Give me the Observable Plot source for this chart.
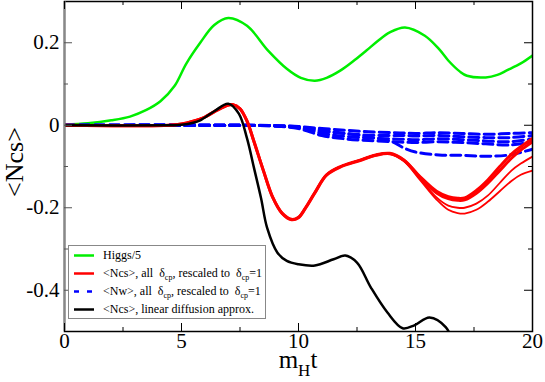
<!DOCTYPE html>
<html>
<head>
<meta charset="utf-8">
<script src="https://cdn.jsdelivr.net/npm/d3@7"></script>
<script src="https://cdn.jsdelivr.net/npm/@observablehq/plot@0.6"></script>
<style>
  * { font-family: "Liberation Serif", serif !important; }
  svg text { font-family: "Liberation Serif", serif !important; }
</style>
</head>
<body style="margin:0;padding:0;background:white">
<div id="wrap" style="position:relative;width:545px;height:382px;font-family:'Liberation Serif', serif">
  <div id="chart"></div>
  <div id="ylab" style="position:absolute;left:15px;top:162px;transform:translate(-50%,-50%) rotate(-90deg);font-size:26px;white-space:nowrap;line-height:26px">&lt;Ncs&gt;</div>
  <div id="xlab" style="position:absolute;left:298px;top:361px;transform:translate(-50%,-50%);font-size:25px;white-space:nowrap;line-height:25px">m<span style="font-size:17px;position:relative;top:8px">H</span>t</div>
  <div id="legend" style="position:absolute;left:68px;top:245px;width:198px;height:74px;border:1px solid #888;background:white;box-sizing:border-box;font-size:12px"></div>
</div>
<script>
// ---- data ----
const tGreen = [0,1,2,2.8,3.5,4.1,4.7,5.2,5.8,6.4,7.0,7.8,8.7,9.5,10.1,10.7,11.2,11.8,12.4,12.9,13.4,13.9,14.55,15.4,16.0,16.4,16.9,17.2,18.0,18.5,18.9,19.5,20];
const vGreen = [0.002,0.005,0.012,0.021,0.037,0.058,0.095,0.149,0.2,0.243,0.26,0.241,0.181,0.137,0.115,0.108,0.115,0.133,0.158,0.181,0.205,0.225,0.237,0.217,0.185,0.157,0.13,0.12,0.116,0.122,0.133,0.15,0.169];

const tRed = [0,4.5,5,5.5,6,6.5,7,7.2,7.5,7.8,8.1,8.5,8.9,9.3,9.7,10.0,10.3,10.7,11.2,11.8,12.6,13.3,13.9,14.5,15.2,15.9,16.4,16.8,17.1,17.6,18.1,18.6,19.1,19.5,20];
const vRed1 = [0,0,0.003,0.01,0.02,0.036,0.049,0.05,0.04,0.01,-0.04,-0.11,-0.175,-0.213,-0.228,-0.223,-0.2,-0.163,-0.12,-0.1,-0.085,-0.072,-0.068,-0.084,-0.125,-0.16,-0.173,-0.177,-0.176,-0.158,-0.132,-0.1,-0.07,-0.052,-0.032];
const vRed2 = [0,0,0.003,0.01,0.02,0.036,0.049,0.05,0.04,0.01,-0.04,-0.11,-0.175,-0.214,-0.229,-0.224,-0.201,-0.164,-0.121,-0.101,-0.086,-0.073,-0.069,-0.085,-0.127,-0.164,-0.178,-0.182,-0.181,-0.165,-0.14,-0.11,-0.08,-0.06,-0.04];
const vRed3 = [0,0,0.003,0.01,0.02,0.036,0.049,0.05,0.04,0.01,-0.04,-0.11,-0.175,-0.213,-0.228,-0.223,-0.2,-0.163,-0.12,-0.1,-0.085,-0.072,-0.069,-0.086,-0.13,-0.175,-0.195,-0.2,-0.2,-0.19,-0.17,-0.14,-0.11,-0.093,-0.076];
const vRed4 = [0,0,0.003,0.01,0.02,0.036,0.049,0.05,0.04,0.01,-0.04,-0.11,-0.175,-0.213,-0.228,-0.223,-0.2,-0.163,-0.12,-0.1,-0.085,-0.072,-0.069,-0.087,-0.133,-0.18,-0.205,-0.213,-0.214,-0.205,-0.185,-0.16,-0.135,-0.12,-0.11];

const tBlue = [0,7,9,10,11,12,13,14,14.5,15,16,17,18,19,20];
const vBlue1 = [0,0,-0.001,-0.003,-0.008,-0.012,-0.016,-0.018,-0.019,-0.02,-0.018,-0.02,-0.022,-0.02,-0.018];
const vBlue2 = [0,0,-0.001,-0.005,-0.015,-0.02,-0.024,-0.025,-0.025,-0.026,-0.025,-0.028,-0.03,-0.03,-0.025];
const vBlue3 = [0,0,-0.002,-0.006,-0.02,-0.027,-0.031,-0.033,-0.034,-0.035,-0.033,-0.035,-0.038,-0.04,-0.033];
const vBlue4 = [0,0,-0.002,-0.008,-0.025,-0.033,-0.037,-0.04,-0.041,-0.042,-0.04,-0.042,-0.045,-0.048,-0.04];
const vBlue5 = [0,0,-0.001,-0.004,-0.012,-0.02,-0.028,-0.04,-0.055,-0.065,-0.072,-0.073,-0.075,-0.072,-0.058];

const tBlack = [0,4.5,5,5.5,5.8,6.4,7.0,7.45,7.8,8.1,8.4,8.66,9.1,9.5,10.0,10.7,11.5,12.0,12.5,13.1,13.8,14.45,14.95,15.6,16.3,16.7,17.2];
const vBlack = [0,0,0.001,0.006,0.012,0.034,0.052,0.028,-0.032,-0.104,-0.177,-0.249,-0.309,-0.329,-0.337,-0.34,-0.325,-0.316,-0.333,-0.394,-0.454,-0.492,-0.485,-0.466,-0.49,-0.54,-0.62];

const xMajor = [0,5,10,15,20];
const xMinor = [2.5,7.5,12.5,17.5];
const yMajor = [0.2,0,-0.2,-0.4];
const yMinor = [0.1,-0.1,-0.3];

const SUB = s => `<span style="font-size:8px;position:relative;top:3px">${s}</span>`;
const legendLabels = [
  "Higgs/5",
  `&lt;Ncs&gt;, all&nbsp; &delta;${SUB("cp")}, rescaled to&nbsp; &delta;${SUB("cp")}=1`,
  `&lt;Nw&gt;, all&nbsp; &delta;${SUB("cp")}, rescaled to&nbsp; &delta;${SUB("cp")}=1`,
  "&lt;Ncs&gt;, linear diffusion approx."
];
const legendColors = ["#00ee00", "#ff0000", "#0000ff", "#000000"];
const legendDash = [null, null, "5,8", null];

// ---- build tables ----
const rows = (ts, vs, s) => ts.map((t, i) => ({t, v: vs[i], s}));
const green = rows(tGreen, vGreen, "g");
const reds = [rows(tRed, vRed1, "r1"), rows(tRed, vRed2, "r2")];
const redThin = [rows(tRed, vRed3, "r3"), rows(tRed, vRed4, "r4")];
const blues = [vBlue1, vBlue2, vBlue3, vBlue4, vBlue5].map((v, i) => rows(tBlue, v, "b" + i)).flat();
const black = rows(tBlack, vBlack, "k");

const W = 545, H = 382, ML = 64, MR = 13, MT = 1, MB = 51;
const iw = W - ML - MR, ih = H - MT - MB;

const chart = Plot.plot({
  width: W, height: H,
  marginLeft: ML, marginRight: MR, marginTop: MT, marginBottom: MB,
  x: {domain: [0, 20]},
  y: {domain: [-0.5, 0.3]},
  style: {fontSize: "21px", background: "white", color: "black", overflow: "visible"},
  marks: [
    Plot.line(green, {x: "t", y: "v", stroke: "#00ee00", strokeWidth: 2.5, curve: "catmull-rom", clip: true}),
    Plot.line(blues, {x: "t", y: "v", z: "s", stroke: "#0000ff", strokeWidth: 3, strokeDasharray: "10,5", curve: "catmull-rom", clip: true}),
    Plot.line(redThin.flat(), {x: "t", y: "v", z: "s", stroke: "#ff0000", strokeWidth: 1.8, curve: "catmull-rom", clip: true}),
    Plot.line(reds.flat(), {x: "t", y: "v", z: "s", stroke: "#ff0000", strokeWidth: 3, curve: "catmull-rom", clip: true}),
    Plot.line(black, {x: "t", y: "v", stroke: "#000000", strokeWidth: 2.5, curve: "catmull-rom", clip: true}),
    Plot.frame({stroke: "black", strokeWidth: 1.5}),
    Plot.ruleX([0], {stroke: "#888", strokeWidth: 2}),
    // inward ticks
    Plot.tickY(yMajor, {y: d => d, insetRight: iw - 8, stroke: "#555", strokeWidth: 1}),
    Plot.tickY(yMinor, {y: d => d, insetRight: iw - 4, stroke: "#555", strokeWidth: 1}),
    Plot.tickY(yMajor, {y: d => d, insetLeft: iw - 8, stroke: "black", strokeWidth: 1}),
    Plot.tickY(yMinor, {y: d => d, insetLeft: iw - 4, stroke: "black", strokeWidth: 1}),
    Plot.tickX(xMajor, {x: d => d, insetTop: ih - 8, stroke: "black", strokeWidth: 1}),
    Plot.tickX(xMinor, {x: d => d, insetTop: ih - 4, stroke: "black", strokeWidth: 1}),
    Plot.tickX(xMajor, {x: d => d, insetBottom: ih - 8, stroke: "black", strokeWidth: 1}),
    Plot.tickX(xMinor, {x: d => d, insetBottom: ih - 4, stroke: "black", strokeWidth: 1}),
    Plot.axisX({ticks: xMajor, tickSize: 0, tickPadding: 2, tickFormat: d => String(d), label: null}),
    Plot.axisY({ticks: yMajor, tickSize: 0, tickPadding: 5, tickFormat: d => String(d), label: null})
  ]
});
document.getElementById("chart").appendChild(chart);
chart.setAttribute("font-family", "Liberation Serif");
d3.select(chart).selectAll("g, text").attr("font-family", "Liberation Serif");

// ---- legend ----
const leg = document.getElementById("legend");
const tops = [0, 17.5, 35.5, 53.5];
legendLabels.forEach((lab, i) => {
  const r = document.createElement("div");
  r.style.cssText = `position:absolute;left:0;top:${tops[i]}px;height:18px;line-height:18px;white-space:nowrap`;
  const dash = legendDash[i] ? ` stroke-dasharray="${legendDash[i]}"` : "";
  r.innerHTML = `<svg width="22" height="18" style="position:absolute;left:5px;top:0"><line x1="0" x2="20" y1="9.5" y2="9.5" stroke="${legendColors[i]}" stroke-width="2.5"${dash}/></svg><span style="position:absolute;left:34px;top:0">${lab}</span>`;
  leg.appendChild(r);
});
</script>
</body>
</html>
